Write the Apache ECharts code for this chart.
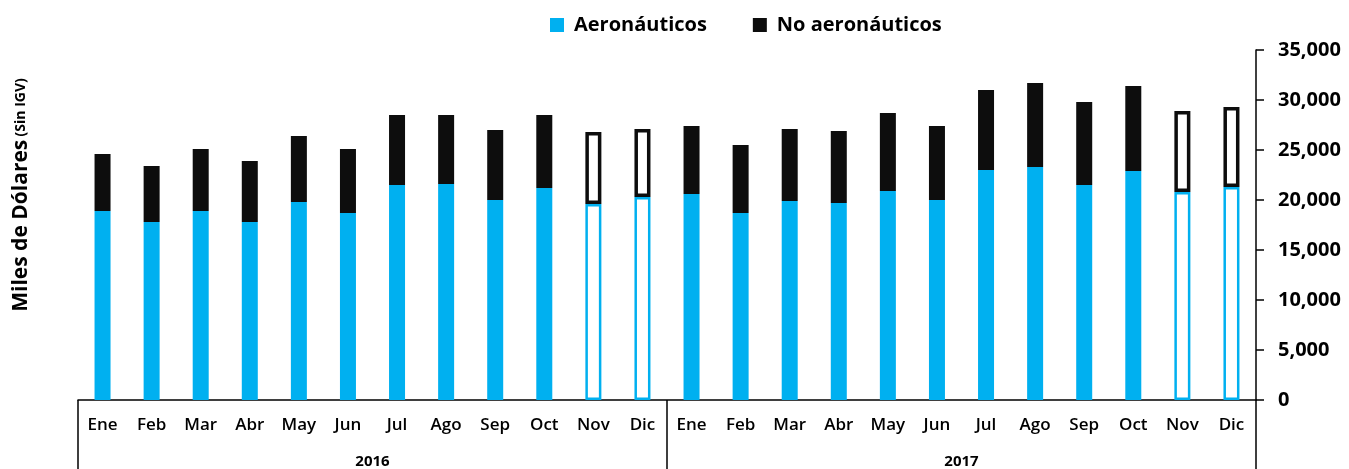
<!DOCTYPE html>
<html>
<head>
<meta charset="utf-8">
<script src="https://cdn.jsdelivr.net/npm/echarts@6/dist/echarts.min.js"></script>
<style>
html,body{margin:0;padding:0;background:#fff;}
#c{width:1349px;height:469px;}
</style>
</head>
<body>
<div id="c"></div>
<script>
const months = ['Ene','Feb','Mar','Abr','May','Jun','Jul','Ago','Sep','Oct','Nov','Dic','Ene','Feb','Mar','Abr','May','Jun','Jul','Ago','Sep','Oct','Nov','Dic'];
const years = ['2016','2017'];
const aeronauticos = [18900,17800,18900,17800,19800,18700,21500,21600,20000,21200,19600,20300,
                      20600,18700,19900,19700,20900,20000,23000,23300,21500,22900,20800,21300];
const noAeronauticos = [5700,5600,6200,6100,6600,6400,7000,6900,7000,7300,7200,6800,
                        6800,6800,7200,7200,7800,7400,8000,8400,8300,8500,8100,8000];
// indices of projected (outlined) bars
const projected = [10,11,22,23];
const yTicks = [0,5000,10000,15000,20000,25000,30000,35000];

const BLUE = '#00B0F0', BLACK = '#0D0D0D';
const FONT = '"Open Sans", sans-serif';

function build(vals, color, bw){
  return vals.map((v,i)=> projected.includes(i)
    ? {value:v, itemStyle:{color:'#ffffff', borderColor:color, borderWidth:bw}}
    : v);
}

const chart = echarts.init(document.getElementById('c'));
chart.setOption({
  animation:false,
  textStyle:{fontFamily:FONT},
  legend:{
    left:545, top:10, itemWidth:14, itemHeight:14, itemGap:46,
    icon:'rect',
    textStyle:{fontFamily:FONT, fontSize:20, fontWeight:'bold', color:'#000', padding:[0,0,0,5]},
    data:['Aeronáuticos','No aeronáuticos']
  },
  grid:{left:78, right:93, top:50, bottom:69},
  graphic:[{
    type:'text', x:21, y:195, rotation:Math.PI/2,
    style:{
      text:'{a|Miles de Dólares} {b|(Sin IGV)}',
      align:'center', verticalAlign:'middle',
      rich:{
        a:{fontFamily:FONT, fontSize:21, fontWeight:'bold', fill:'#000'},
        b:{fontFamily:FONT, fontSize:14, fontWeight:'bold', fill:'#000'}
      }
    }
  }],
  xAxis:[{
    type:'category', data:months, position:'bottom',
    axisLine:{show:true, lineStyle:{color:'#000', width:1.5}},
    axisTick:{show:false},
    axisLabel:{interval:0, margin:17, fontFamily:FONT, fontSize:17, fontWeight:600, color:'#000'}
  },{
    type:'category', data:years, position:'bottom',
    axisLine:{show:false},
    axisTick:{show:true, length:69, lineStyle:{color:'#000', width:1.5}},
    axisLabel:{interval:0, margin:54, fontFamily:FONT, fontSize:15, fontWeight:'bold', color:'#000'}
  }],
  yAxis:{
    type:'value', position:'right', min:0, max:35000, interval:5000,
    splitLine:{show:false},
    axisLine:{show:true, lineStyle:{color:'#000', width:1.5}},
    axisTick:{show:true, length:8, lineStyle:{color:'#000', width:1.5}},
    axisLabel:{margin:22, fontFamily:FONT, fontSize:20, fontWeight:'bold', color:'#000',
      formatter:v=>yTicks.includes(v)? v.toLocaleString('en-US') : ''}
  },
  series:[{
    name:'Aeronáuticos', type:'bar', stack:'t', barWidth:16, xAxisIndex:0,
    itemStyle:{color:BLUE},
    data:build(aeronauticos, BLUE, 2.5)
  },{
    name:'No aeronáuticos', type:'bar', stack:'t', barWidth:16, xAxisIndex:0,
    itemStyle:{color:BLACK},
    data:build(noAeronauticos, BLACK, 3.5)
  }]
});
</script>
</body>
</html>
